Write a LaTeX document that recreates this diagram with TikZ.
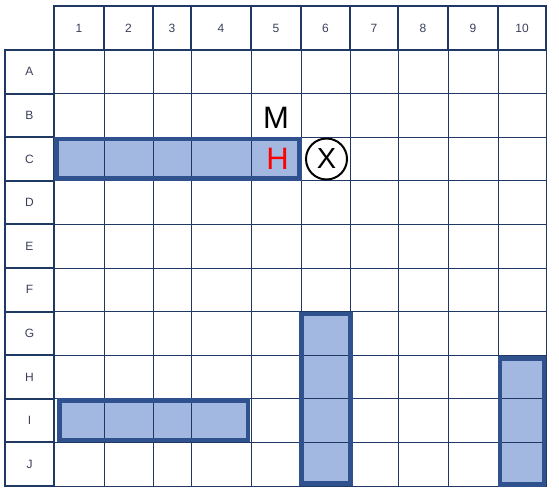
\documentclass[tikz,border=0pt]{standalone}
\usepackage{fontspec}
\setmainfont{Liberation Sans}
\usetikzlibrary{positioning}

\definecolor{gridblue}{RGB}{31,56,100}
\definecolor{shipline}{RGB}{47,82,143}
\definecolor{shipfill}{RGB}{162,184,224}
\definecolor{labelgray}{RGB}{60,64,90}

\tikzset{
  cell/.style={draw=gridblue, line width=1pt},
  headcell/.style={draw=gridblue, line width=1.9pt},
  shipbody/.style={fill=shipfill},
  shipedge/.style={draw=shipline, line width=4.5pt},
  lbl/.style={font=\fontsize{12}{12}\selectfont, text=labelgray},
  big/.style={font=\fontsize{31}{31}\selectfont, inner sep=0pt}
}

\begin{document}
\begin{tikzpicture}[x=1pt, y=-1pt]
  \useasboundingbox (0,0) rectangle (559,489);
  \fill[white] (0,0) rectangle (559,489);

  % ships, filled first
  \foreach \xa/\ya/\xb/\yb in {56.5/139/299.5/178.5, 59.5/400.5/248/440,
                                301.5/314/350.5/483.5, 500/358.5/544/484.5}
    \fill[shipbody] (\xa,\ya) rectangle (\xb,\yb);

  % board
  \foreach \xa/\xb/\n in {54/104/1,104/153/2,153/191/3,191/251/4,251/301/5,
                          301/350/6,350/398/7,398/448/8,448/498/9,498/546/10} {
    \foreach \r [count=\i from 0] in {A,B,C,D,E,F,G,H,I,J}
      \draw[cell] (\xa,50+43.6*\i) rectangle (\xb,93.6+43.6*\i);
    \draw[headcell] (\xa,6) rectangle (\xb,50);
    \node[lbl] (h\n) at ({(\xa+\xb)/2},28) {\n};
  }
  \foreach \r [count=\i from 0] in {A,B,C,D,E,F,G,H,I,J} {
    \draw[headcell] (5,50+43.6*\i) rectangle (54,93.6+43.6*\i);
    \node[lbl] (r\r) at (29.5,71.8+43.6*\i) {\r};
  }

  % ship outlines
  \foreach \xa/\ya/\xb/\yb in {56.5/139/299.5/178.5, 59.5/400.5/248/440,
                                301.5/314/350.5/483.5, 500/358.5/544/484.5}
    \draw[shipedge] (\xa,\ya) rectangle (\xb,\yb);

  % shots
  \node[big] (miss) at (276,118) {M};
  \node[big, text=red] (hit) at (277.5,159) {H};
  \node[big, draw, circle, line width=2pt, minimum size=41pt,
        font=\fontsize{29}{29}\selectfont] (aim) at (326.5,159) {X};
\end{tikzpicture}
\end{document}
